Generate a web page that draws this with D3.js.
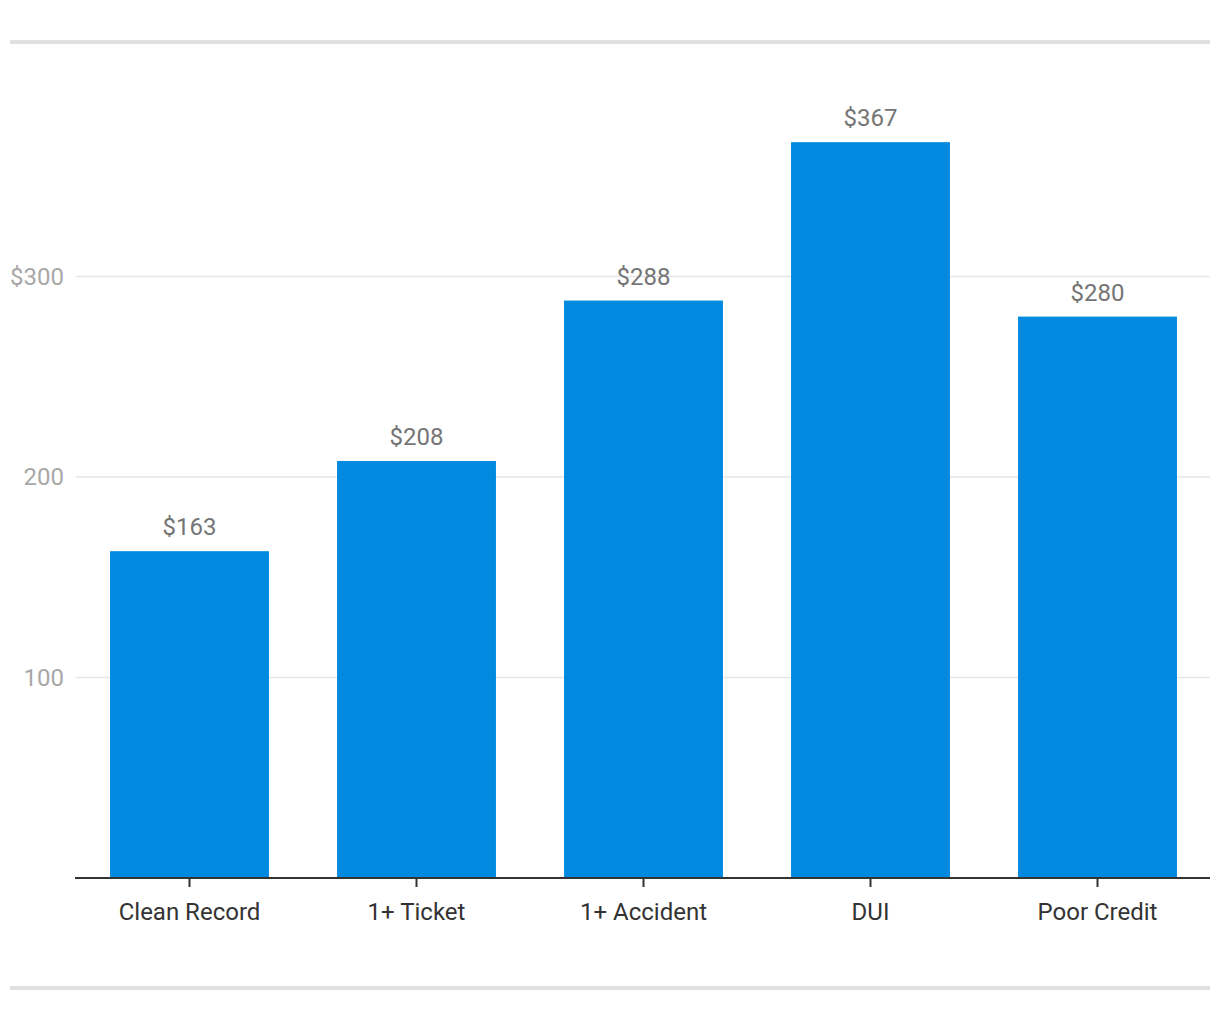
<!DOCTYPE html>
<html><head><meta charset="utf-8">
<script src="https://cdn.jsdelivr.net/npm/d3@7"></script>
<style>body{margin:0;background:#fff;font-family:Roboto,sans-serif}</style>
</head><body><svg id="c" width="1220" height="1020"></svg>
<script>
const categories = ["Clean Record","1+ Ticket","1+ Accident","DUI","Poor Credit"];
const values = [163,208,288,367,280];
const yTicks = [100,200,300];
const yTickLabels = ["100","200","$300"];

const svg = d3.select("#c");
const x = d3.scaleBand().domain(categories).range([76,1211]).paddingInner(0.3).paddingOuter(0.15);
const y = d3.scaleLinear().domain([0,300]).range([878,276.5]);

svg.append("rect").attr("x",10).attr("y",40).attr("width",1200).attr("height",4).attr("fill","#e0e0e0");
svg.append("rect").attr("x",10).attr("y",986).attr("width",1200).attr("height",4).attr("fill","#e0e0e0");

const g = svg.append("g");
g.selectAll("line.grid").data(yTicks).join("line").attr("class","grid")
  .attr("x1",76).attr("x2",1210).attr("y1",d=>y(d)).attr("y2",d=>y(d))
  .attr("stroke","#e6e6e6").attr("stroke-width",1.5);
g.selectAll("text.yl").data(yTicks).join("text").attr("class","yl")
  .attr("x",64).attr("y",d=>y(d)).attr("dy","0.35em").attr("text-anchor","end")
  .attr("font-size",24).attr("fill","#a8a8a8").text((d,i)=>yTickLabels[i]);

g.selectAll("rect.bar").data(values).join("rect").attr("class","bar")
  .attr("x",(d,i)=>x(categories[i])).attr("width",x.bandwidth())
  .attr("y",d=>y(d)).attr("height",d=>y(0)-y(d)).attr("fill","#028ae0");

g.selectAll("text.vl").data(values).join("text").attr("class","vl")
  .attr("x",(d,i)=>x(categories[i])+x.bandwidth()/2).attr("y",d=>y(d)-16)
  .attr("text-anchor","middle").attr("font-size",24).attr("fill","#757575").text(d=>"$"+d);

const xa = svg.append("g").attr("transform","translate(0,878)")
  .call(d3.axisBottom(x).tickSize(9).tickSizeOuter(0).tickPadding(16));
xa.select(".domain").attr("stroke","#333").attr("stroke-width",2).attr("d","M75,0H1210");
xa.selectAll(".tick line").attr("stroke","#333").attr("stroke-width",2);
xa.selectAll(".tick text").attr("font-size",24).attr("fill","#333").attr("font-family","Roboto");
</script></body></html>
